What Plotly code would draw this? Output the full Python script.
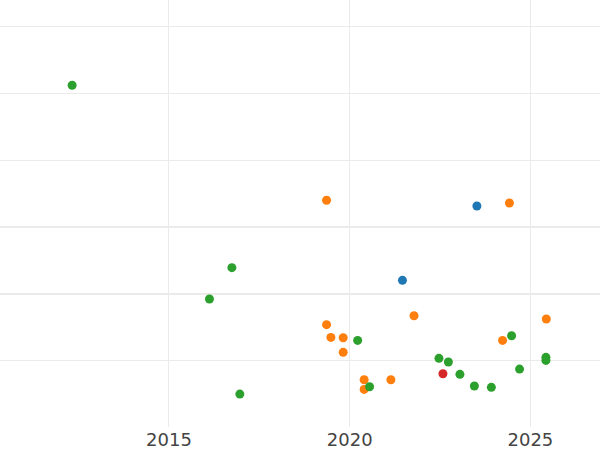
import plotly.graph_objects as go

blue_x = [2021.46, 2023.52]
blue_y = [0.205, 1.317]

orange_x = [2019.36, 2024.42, 2021.78, 2025.44, 2019.36, 2019.48, 2019.82, 2019.82,
            2024.23, 2020.40, 2021.14, 2020.40]
orange_y = [1.403, 1.362, -0.325, -0.374, -0.459, -0.649, -0.654, -0.873,
            -0.694, -1.283, -1.283, -1.427]

green_x = [2012.32, 2016.74, 2016.12, 2016.96, 2020.22, 2024.48, 2022.47, 2022.73,
           2025.43, 2025.43, 2023.05, 2024.70, 2020.55, 2023.45, 2023.92]
green_y = [3.124, 0.394, -0.075, -1.497, -0.694, -0.624, -0.963, -1.018,
           -0.948, -0.993, -1.202, -1.123, -1.388, -1.377, -1.397]

red_x = [2022.58]
red_y = [-1.193]

series = [
    ("blue", blue_x, blue_y, "#1f77b4"),
    ("orange", orange_x, orange_y, "#ff7f0e"),
    ("green", green_x, green_y, "#2ca02c"),
    ("red", red_x, red_y, "#d62728"),
]

fig = go.Figure()
# empty trace to anchor the overlaid secondary axis
fig.add_trace(go.Scatter(x=[], y=[], yaxis="y2", showlegend=False, hoverinfo="skip"))
for name, xs, ys, col in series:
    fig.add_trace(go.Scatter(x=xs, y=ys, mode="markers", name=name,
                             marker=dict(color=col, size=9, line=dict(width=0)),
                             showlegend=False))

grid = "#EBEBEB"
fig.update_layout(
    width=600, height=450,
    margin=dict(l=0, r=0, t=0, b=23),
    paper_bgcolor="white", plot_bgcolor="white",
    font=dict(family="DejaVu Sans", size=18, color="#444"),
    xaxis=dict(range=[2010.324, 2026.926], tick0=2015, dtick=5,
               showgrid=True, gridcolor=grid, gridwidth=1, zeroline=False,
               showline=False, ticks="", tickfont=dict(size=18, color="#444")),
    yaxis=dict(range=[-1.99, 4.4], dtick=1, showgrid=True, gridcolor=grid,
               gridwidth=1, zeroline=True, zerolinecolor=grid, zerolinewidth=2,
               showticklabels=False, showline=False, ticks=""),
    yaxis2=dict(range=[-2.99, 3.4], overlaying="y", showgrid=False,
                zeroline=True, zerolinecolor=grid, zerolinewidth=2,
                showticklabels=False, showline=False, ticks=""),
)

fig.write_html("out.html",
               config={"displayModeBar": False},
               post_script="document.body.style.margin='0';document.body.style.overflow='hidden';")
